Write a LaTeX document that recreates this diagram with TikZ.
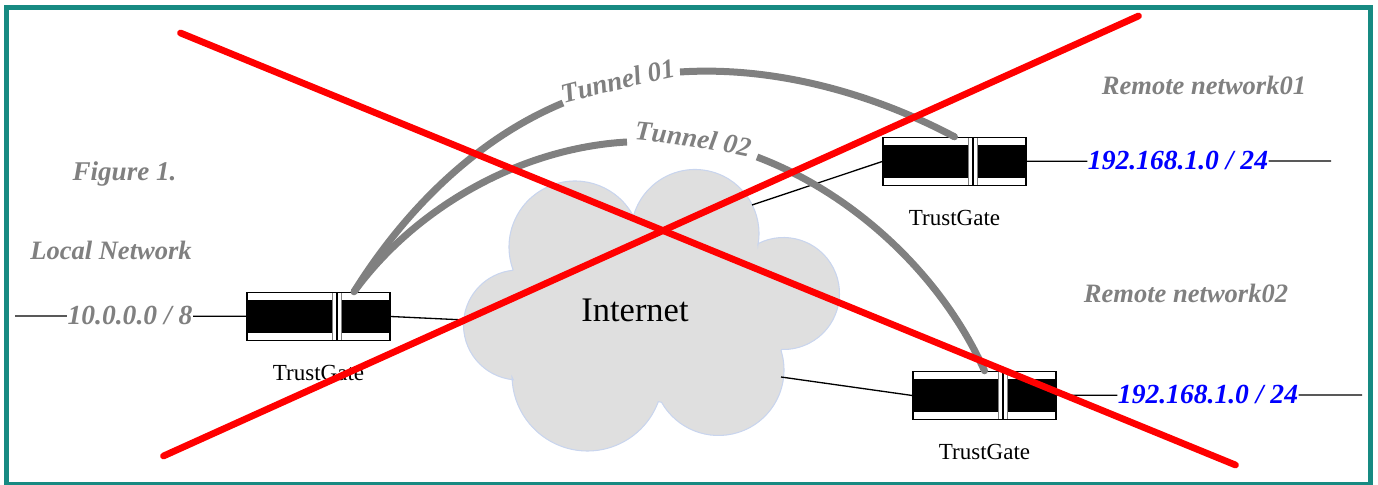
\documentclass[tikz,border=0pt]{standalone}
\usepackage{fontspec}
\setmainfont{Liberation Serif}
\usetikzlibrary{positioning,decorations.text}
\definecolor{framecol}{HTML}{178A82}
\definecolor{cloudcol}{HTML}{DFDFDF}
\definecolor{cloudline}{HTML}{C9D5EE}
\definecolor{tunnelcol}{HTML}{808080}
\tikzset{
  gatebox/.style={draw,line width=.8pt,minimum width=2.86cm,minimum height=.96cm,inner sep=0pt,
    path picture={
      \fill (path picture bounding box.west)++(0,-.33) rectangle ([yshift=.33cm]path picture bounding box.east);
      \fill[white] ([xshift=.28cm]path picture bounding box.south) rectangle ([xshift=.46cm]path picture bounding box.north);
      \draw[line width=.7pt] ([xshift=.37cm]path picture bounding box.south) -- ([xshift=.37cm]path picture bounding box.north);
      \draw[gray,line width=.4pt] ([xshift=.28cm]path picture bounding box.south) -- ([xshift=.28cm]path picture bounding box.north)
        ([xshift=.46cm]path picture bounding box.south) -- ([xshift=.46cm]path picture bounding box.north);
    }},
  gatetext/.style={font=\fontsize{13.1}{15}\selectfont,inner sep=0pt},
  graytext/.style={font=\fontsize{15.1}{17}\selectfont\bfseries\itshape,text=tunnelcol,inner sep=0pt},
  ipaddr/.style={font=\fontsize{15.7}{18}\selectfont\bfseries\itshape,text=blue,inner sep=0pt},
  tunnel/.style={draw=tunnelcol,line width=.14cm},
  crossout/.style={draw=red,line width=.135cm,line cap=round}
}
\begin{document}
\begin{tikzpicture}[line width=.75pt]
        \useasboundingbox (0,0) rectangle (27.56,9.7);
        \draw[framecol,line width=.1cm] (.13,0) rectangle (27.41,9.55);
        % cloud
        \filldraw[fill=cloudcol,draw=cloudline,line width=.6pt]
                ([shift={(11.5,4.76)}]200.2:1.32) arc[start angle=200.2,end angle=26.8,radius=1.32]
                -- ([shift={(13.9,5.03)}]164.5:1.28) arc[start angle=164.5,end angle=-10.4,radius=1.28]
                -- ([shift={(15.67,3.83)}]117.3:1.12) arc[start angle=117.3,end angle=-91.7,radius=1.12]
                -- ([shift={(14.37,2.3)}]17.5:1.31) arc[start angle=17.5,end angle=-150.5,radius=1.31]
                -- ([shift={(11.75,2.19)}]-20.3:1.51) arc[start angle=-20.3,end angle=-178.7,radius=1.51]
                -- ([shift={(10.37,3.2)}]264.5:1.1) arc[start angle=264.5,end angle=96.2,radius=1.1]
                -- cycle;
        \node[font=\fontsize{19.6}{22}\selectfont,inner sep=0pt] (internet) at (12.7,3.5) {Internet};
        \coordinate (cloudw) at (9.3,3.3);
        \coordinate (cloudne) at (15.04,5.6);
        \coordinate (cloudse) at (15.62,2.16);
        % gates
        \node[gatebox] (gate1) at (6.37,3.37) {};
        \node[gatebox] (gate2) at (19.09,6.47) {};
        \node[gatebox] (gate3) at (19.69,1.79) {};
        \node[gatetext,below=.47 of gate1] (name1) {TrustGate};
        \node[gatetext,below=.47 of gate2] (name2) {TrustGate};
        \node[gatetext,below=.47 of gate3] (name3) {TrustGate};
        % networks
        \node[ipaddr,text=tunnelcol] (lan) at (2.6,3.38) {10.0.0.0 / 8};
        \node[ipaddr] (net1) at (23.56,6.48) {192.168.1.0 / 24};
        \node[ipaddr] (net2) at (24.16,1.8) {192.168.1.0 / 24};
        \coordinate (lanend) at (.3,3.38);
        \coordinate (net1end) at (26.62,6.48);
        \coordinate (net2end) at (27.24,1.8);
        \draw (lanend) -- (lan) -- (gate1) (gate1.east) -- (cloudw);
        \draw (cloudne) -- (gate2.west) (gate2) -- (net1) -- (net1end);
        \draw (cloudse) -- (gate3.west) (gate3) -- (net2) -- (net2end);
        % labels
        \node[graytext,font=\fontsize{15.4}{17}\selectfont\bfseries\itshape] (fig) at (2.49,6.23) {Figure 1.};
        \node[graytext] (local) at (2.22,4.7) {Local Network};
        \node[graytext] (remote1) at (24.08,8) {Remote network01};
        \node[graytext] (remote2) at (23.72,3.84) {Remote network02};
        % tunnels
        \coordinate (tunstart) at ([xshift=.71cm]gate1.north);
        \draw[tunnel] (tunstart) .. controls (8.06,5.44) and (9.48,6.9) .. (11.26,7.64);
        \draw[tunnel] (13.6,8.26) .. controls (15.44,8.38) and (17.4,7.86) .. (gate2.north);
        \draw[tunnel] (tunstart) .. controls (8.3,5.54) and (10.4,6.74) .. (12.54,6.86);
        \draw[tunnel] (15.14,6.56) .. controls (17.1,5.82) and (18.84,4.18) .. (gate3.north);
        \fill[tunnelcol] (tunstart) circle (.07) (gate2.north) circle (.07) (gate3.north) circle (.07);
        \path[decorate,decoration={text along path,text align=center,
                text={|\fontsize{15.5}{17}\selectfont\bfseries\itshape\color{tunnelcol}|Tunnel 01}}]
                (11.1,7.58) .. controls (11.95,7.8) and (12.8,8.02) .. (13.7,8.2);
        \path[decorate,decoration={text along path,text align=center,
                text={|\fontsize{15.5}{17}\selectfont\bfseries\itshape\color{tunnelcol}|Tunnel 02}}]
                (12.4,6.92) .. controls (13.36,6.86) and (14.26,6.72) .. (15.26,6.5);
        % red cross
        \draw[crossout] (3.61,9.04) -- (24.71,.4);
        \draw[crossout] (3.27,.58) -- (22.77,9.38);
\end{tikzpicture}
\end{document}
